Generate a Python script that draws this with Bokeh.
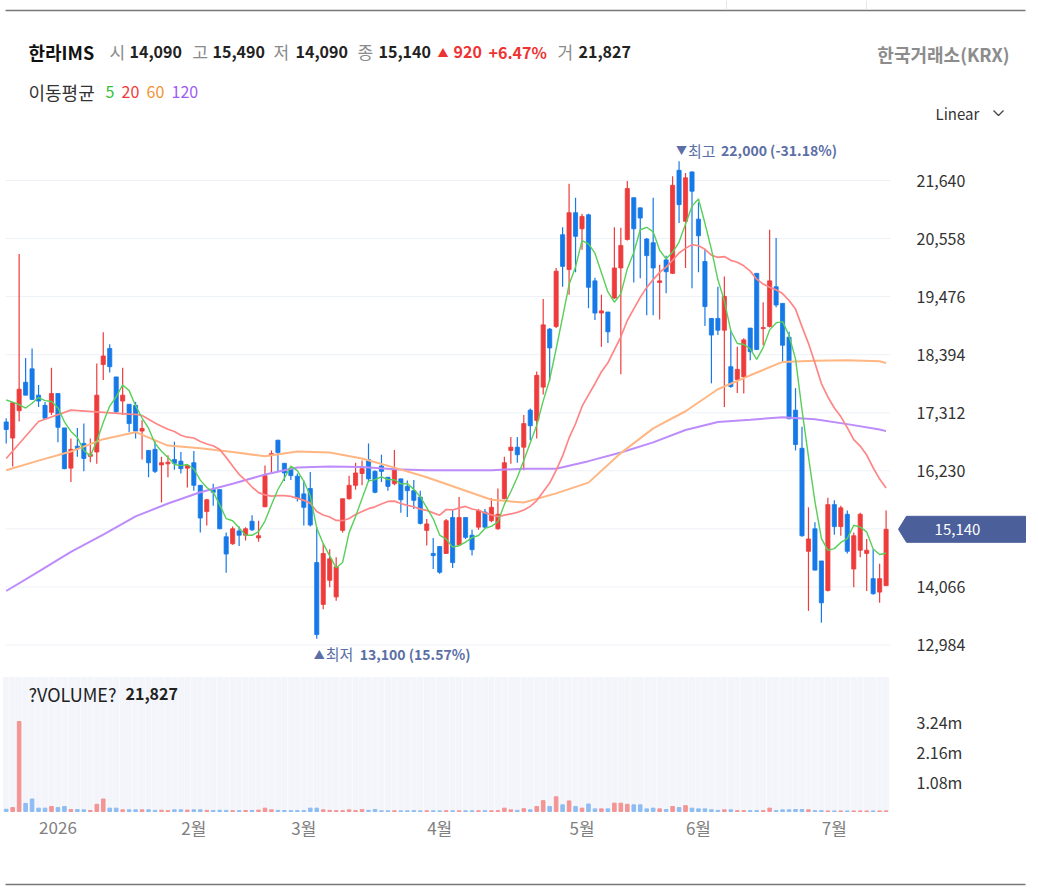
import numpy as np
import pandas as pd
from bokeh.plotting import figure
from bokeh.models import Range1d, Grid
from bokeh.core.properties import value
from bokeh.embed import file_html
from bokeh.resources import INLINE

# ---------------- data ----------------
stock_name = "한라IMS"
exchange = "한국거래소(KRX)"
start_date, end_date = "2025-12-18", "2026-07-13"
holidays = ["2025-12-25", "2025-12-31", "2026-01-01", "2026-02-16", "2026-02-17",
            "2026-02-18", "2026-03-02", "2026-05-01", "2026-05-05", "2026-05-25",
            "2026-06-03"]

opens = [17140, 16840, 17350, 17880, 18130, 17640, 17450, 17320, 17670, 17030,
         16280, 16690, 16740, 16500, 16580, 18210, 18510, 17980, 17530, 17470,
         17450, 16970, 16610, 16630, 16340, 16360, 16440, 16410, 16280, 16380,
         15960, 15470, 15880, 15880, 15000, 14870, 15110, 15030, 15290, 14980,
         15560, 16520, 16800, 16370, 16270, 16130, 15800, 15900, 14520, 13740,
         14190, 13880, 15120, 15710, 15960, 16180, 16440, 16220, 16320, 16110,
         15990, 16080, 15940, 15860, 15740, 15120, 14690, 14820, 14690, 15360,
         14850, 15360, 15030, 15180, 15460, 15300, 15150, 15710, 16610, 16670,
         16670, 17360, 17170, 17790, 18870, 18920, 20630, 19980, 21040, 20740,
         21000, 19770, 19170, 19190, 19450, 20010, 20540, 21320, 21130, 20550,
         20480, 19740, 20160, 19910, 21830, 20880, 21800, 20920, 20130, 19070,
         19070, 18850, 18170, 17930, 17980, 18890, 19910, 18880, 18920, 19660,
         19350, 18720, 17360, 16650, 14730, 15150, 14550, 14000, 15600, 15190,
         15420, 14400, 14750, 14690, 14220, 13970, 14090]
highs = [17210, 17500, 20270, 18330, 18510, 17830, 17510, 18150, 17670, 17030,
         16830, 17030, 17110, 16830, 18230, 18810, 18590, 17980, 18150, 17470,
         17510, 17170, 16610, 16800, 16490, 16520, 16770, 16580, 16350, 16600,
         15960, 15710, 15990, 15880, 15080, 15190, 15190, 15180, 15400, 15300,
         16330, 16610, 16810, 16370, 16300, 16180, 16050, 16210, 15180, 14870,
         14770, 14620, 15710, 16140, 16380, 16420, 16740, 16240, 16530, 16110,
         16620, 16080, 16050, 16060, 15860, 15330, 14980, 14820, 15330, 15520,
         15740, 15360, 15130, 15520, 15520, 15720, 15900, 16490, 16860, 16860,
         17270, 17390, 18080, 19430, 18890, 20010, 20770, 21580, 21320, 21020,
         21020, 19830, 19510, 19190, 20770, 20760, 21630, 21320, 21130, 20570,
         21320, 20070, 20240, 21720, 22000, 21780, 21810, 21230, 20360, 19070,
         19660, 19850, 18850, 18540, 18700, 18890, 19910, 19370, 20720, 20570,
         19350, 18820, 17770, 17050, 15550, 15270, 14550, 15730, 15680, 15580,
         15490, 15080, 15450, 14960, 14770, 14500, 15490]
lows = [16740, 16310, 17150, 17640, 17560, 17420, 17190, 17270, 16760, 16260,
        16020, 16490, 16220, 16390, 16360, 17920, 18060, 17300, 17270, 16950,
        16830, 16440, 16110, 16190, 15640, 16110, 16250, 16180, 15920, 15860,
        15080, 15210, 15580, 15140, 14330, 14850, 14830, 14930, 15110, 14910,
        15550, 16190, 16210, 16040, 16060, 15660, 15210, 15190, 13100, 13650,
        14060, 13810, 15080, 15690, 15880, 15960, 16020, 15810, 16020, 15860,
        15960, 15450, 15370, 15520, 15230, 14840, 14400, 14310, 14680, 14420,
        14840, 14960, 14650, 15130, 15160, 15270, 15130, 15700, 16360, 16380,
        16240, 16800, 16830, 17650, 17900, 18890, 19660, 19510, 19930, 20350,
        19260, 19040, 18540, 18610, 19430, 18030, 20520, 19740, 19820, 19130,
        19130, 19050, 19540, 19900, 20850, 20010, 19630, 19930, 18930, 17860,
        18760, 17420, 17780, 17680, 17670, 18290, 18480, 18570, 18900, 19280,
        18260, 17190, 16610, 15000, 13620, 14370, 13400, 13980, 15040, 15020,
        14690, 14060, 14620, 13990, 13920, 13770, 14090]
closes = [17000, 17500, 17750, 17640, 17560, 17530, 17210, 17670, 17040, 16270,
          16630, 16640, 16460, 16540, 17640, 18370, 18170, 17330, 17640, 17110,
          16970, 17020, 16380, 16220, 16380, 16390, 16370, 16270, 16330, 15960,
          15350, 15690, 15830, 15150, 14680, 15150, 15030, 15150, 15130, 15020,
          16140, 16550, 16570, 16190, 16140, 15720, 15550, 15220, 13180, 14690,
          14590, 14440, 15710, 15960, 16190, 16270, 16080, 15830, 16220, 15940,
          16250, 15690, 15860, 15680, 15250, 15240, 14650, 14340, 15300, 14520,
          15360, 14990, 14760, 15490, 15180, 15550, 15420, 16380, 16670, 16530,
          17110, 17070, 18010, 18950, 18520, 19950, 20040, 21040, 20600, 20970,
          19650, 19170, 19210, 18820, 20010, 20430, 21490, 20740, 20940, 20240,
          20010, 19770, 19940, 21550, 21190, 21690, 21440, 20610, 19290, 18760,
          18850, 19480, 17800, 18120, 18670, 18450, 18490, 18900, 19770, 19320,
          18570, 17200, 16720, 15020, 14960, 14380, 13770, 15600, 15190, 15540,
          14730, 15020, 15420, 14750, 13940, 14220, 15140]
volumes = [80000, 140000, 3240000, 290000, 450000, 120000, 120000, 180000, 140000, 180000,
           70000, 70000, 60000, 35000, 260000, 450000, 120000, 120000, 60000, 60000,
           60000, 60000, 60000, 40000, 45000, 30000, 60000, 60000, 50000, 60000,
           60000, 40000, 35000, 45000, 40000, 30000, 30000, 35000, 35000, 50000,
           120000, 60000, 40000, 35000, 30000, 30000, 30000, 120000, 120000, 60000,
           40000, 30000, 30000, 60000, 30000, 70000, 40000, 70000, 25000, 25000,
           28000, 22000, 25000, 30000, 24000, 26000, 25000, 22000, 28000, 25000,
           24000, 26000, 25000, 25000, 30000, 25000, 30000, 120000, 60000, 40000,
           100000, 60000, 180000, 390000, 180000, 530000, 240000, 380000, 180000, 120000,
           270000, 95000, 95000, 95000, 300000, 300000, 260000, 240000, 240000, 95000,
           120000, 95000, 70000, 180000, 140000, 210000, 120000, 95000, 95000, 60000,
           40000, 60000, 60000, 30000, 30000, 30000, 30000, 30000, 120000, 30000,
           60000, 60000, 70000, 70000, 60000, 30000, 30000, 20000, 20000, 20000,
           20000, 20000, 20000, 20000, 20000, 20000, 21827]

# moving averages: values before the visible window are not on the picture,
# so their first points are read directly from it
ma5_head = [17550, 17510, 17465, 17400]
ma20_head_idx = [0, 5, 10, 15]
ma20_head = [16460, 17150, 17360, 17320]
ma_long_idx = [0, 5, 10, 15, 20, 25, 30, 35, 40, 45, 50, 55, 60, 65, 70, 75, 80,
               85, 90, 95, 100, 105, 110, 115, 120, 125, 130, 135, 136]
ma60 = [16240, 16420, 16590, 16820, 16950, 16700, 16650, 16580, 16500, 16590,
        16570, 16460, 16290, 16110, 15900, 15690, 15640, 15810, 16010, 16560,
        17020, 17340, 17750, 18010, 18260, 18280, 18290, 18270, 18240]
ma120 = [13990, 14350, 14720, 15040, 15380, 15620, 15830, 15990, 16160, 16290,
         16310, 16300, 16260, 16240, 16240, 16240, 16270, 16270, 16410, 16570,
         16760, 16990, 17140, 17180, 17230, 17190, 17100, 17000, 16970]

price_ticks = [12984, 14066, 15148, 16230, 17312, 18394, 19476, 20558, 21640]
vol_ticks = [1080000, 2160000, 3240000]
vol_tick_labels = ["1.08m", "2.16m", "3.24m"]
ma_periods = ["5", "20", "60", "120"]

# ---------------- styles ----------------
FONT = value("Noto Sans CJK KR")
RED, BLUE = "#ee3b3b", "#1679e8"
VRED, VBLUE = "#f49494", "#8dbdf2"
DARK, GRAY = "#222222", "#8a8a8a"
MA_COLORS = ["#58cf58", "#ff8686", "#ffb683", "#bd8cfb"]
MA_LABEL_COLORS = ["#36c236", "#f0393c", "#f39233", "#9d5cf6"]
TAG = "#4b5f9b"

# ---------------- derived ----------------
N = len(closes)
dates = pd.bdate_range(start_date, end_date, freq="C", holidays=holidays)[:N]
idx = np.arange(N)
o, h, l, c, v = (np.array(a, dtype=float) for a in (opens, highs, lows, closes, volumes))
up = c >= o
ccol = [RED if u else BLUE for u in up]
vcol = [VRED if u else VBLUE for u in up]

ma5 = pd.Series(c).rolling(5).mean().to_numpy()
ma5[:4] = ma5_head
ma20_c = pd.Series(c).rolling(20).mean().to_numpy()
ma20_x = list(ma20_head_idx) + list(range(19, N))
ma20_y = list(ma20_head) + list(ma20_c[19:])

tick_idx, tick_lab = [], []
for i in range(1, N):
    if dates[i].month != dates[i - 1].month:
        tick_idx.append(i)
        tick_lab.append(str(dates[i].year) if dates[i].month == 1 else f"{dates[i].month}월")

# ---------------- layout (page pixels; canvas sits at the page origin) ----------------
W, H = 1034, 890
X0, Y0 = 0, 0
CX0, CX1 = 5.7, 885.6          # page x of first / last candle
PY_HI, PY_LO = 180.0, 644.5    # page y of top / bottom price tick
VY0, VY_TOP = 811.0, 721.0     # page y of zero volume / top volume tick
VPANEL_TOP = 677.0
PLOT_LEFT, PLOT_RIGHT = 5.0, 890.0

p = figure(width=W, height=H, x_range=Range1d(X0, X0 + W), y_range=Range1d(Y0 + H, Y0),
           x_axis_location=None, y_axis_location=None, min_border=0,
           toolbar_location=None, output_backend="svg")
for g in p.select(type=Grid):
    g.visible = False
p.outline_line_color = None
p.background_fill_color = "white"
p.border_fill_color = "white"

kx = (CX1 - CX0) / (N - 1)
ky = (price_ticks[-1] - price_ticks[0]) / (PY_LO - PY_HI)
kv = vol_ticks[-1] / (VY0 - VY_TOP)
p.extra_x_ranges = {"idx": Range1d((X0 - CX0) / kx, (X0 + W - CX0) / kx)}
p.extra_y_ranges = {
    "price": Range1d(price_ticks[0] - (Y0 + H - PY_LO) * ky, price_ticks[-1] + (PY_HI - Y0) * ky),
    "vol": Range1d(-(Y0 + H - VY0) * kv, (VY0 - Y0) * kv),
}


def txt(x, y, s, color=DARK, size="16px", bold=False, align="left", xr="default",
        yr="default", xo=0, yo=0):
    p.text(x=[x], y=[y], text=[s], text_color=color, text_font=FONT, text_font_size=size,
           text_font_style="bold" if bold else "normal", text_align=align,
           text_baseline="middle", x_range_name=xr, y_range_name=yr, x_offset=xo, y_offset=yo)


# frame lines
p.segment(x0=[5, 5], x1=[1025, 1025], y0=[10, 884], y1=[10, 884], line_color="#777777", line_width=1.4)
p.segment(x0=[726, 866], x1=[726, 866], y0=[0, 0], y1=[9, 9], line_color="#e6e6e6", line_width=1)

# price grid
p.segment(x0=[PLOT_LEFT] * len(price_ticks), x1=[PLOT_RIGHT] * len(price_ticks), y0=price_ticks,
          y1=price_ticks, y_range_name="price", line_color="#edf1f6", line_width=1)

# volume panel stripes and bars
p.vbar(x=idx, width=0.8, bottom=0, top=(VY0 - VPANEL_TOP) * kv, color="#f3f5fa",
       x_range_name="idx", y_range_name="vol")
p.vbar(x=idx, width=0.55, bottom=0, top=v, color=vcol, x_range_name="idx", y_range_name="vol")

# candles
p.segment(x0=idx, x1=idx, y0=l, y1=h, line_color=ccol, line_width=1.2,
          x_range_name="idx", y_range_name="price")
p.vbar(x=idx, width=0.64, bottom=np.minimum(o, c), top=np.maximum(o, c), fill_color=ccol,
       line_color=ccol, line_width=0.8, x_range_name="idx", y_range_name="price")

# moving averages
p.line(ma_long_idx, ma120, line_color=MA_COLORS[3], line_width=2, x_range_name="idx", y_range_name="price")
p.line(ma_long_idx, ma60, line_color=MA_COLORS[2], line_width=2, x_range_name="idx", y_range_name="price")
p.line(ma20_x, ma20_y, line_color=MA_COLORS[1], line_width=1.7, x_range_name="idx", y_range_name="price")
p.line(idx, ma5, line_color=MA_COLORS[0], line_width=1.4, x_range_name="idx", y_range_name="price")

# max / min annotations
last_close = closes[-1]
imax = int(np.argmax(h)); imin = int(np.argmin(l))
mx, mn = int(h[imax]), int(l[imin])
ANN = "#5b6fa6"
txt(imax, mx, "▼", ANN, "11px", xr="idx", yr="price", xo=-3, yo=-11)
txt(imax, mx, "최고", ANN, "15px", xr="idx", yr="price", xo=9, yo=-11)
txt(imax, mx, f"{mx:,} ({(last_close - mx) / mx * 100:.2f}%)", ANN, "14px", True,
    xr="idx", yr="price", xo=42, yo=-11)
txt(imin, mn, "▲", ANN, "11px", xr="idx", yr="price", xo=-3, yo=15)
txt(imin, mn, "최저", ANN, "15px", xr="idx", yr="price", xo=9, yo=15)
txt(imin, mn, f"{mn:,} ({(last_close - mn) / mn * 100:.2f}%)", ANN, "14px", True,
    xr="idx", yr="price", xo=43, yo=15)

# right price axis labels
for t in price_ticks:
    txt(916, t, f"{t:,}", "#333333", "16px", yr="price")
# current price tag
hh = 13 * ky
p.patch(x=[898, 906, 1025, 1025, 906], y=[last_close, last_close + hh, last_close + hh,
        last_close - hh, last_close - hh], color=TAG, y_range_name="price")
txt(957, last_close, f"{closes[-1]:,}", "white", "15px", align="center", yr="price")

# volume axis labels
for t, s in zip(vol_ticks, vol_tick_labels):
    txt(916, t, s, "#333333", "16px", yr="vol")

# month labels
p.text(x=tick_idx, y=[827] * len(tick_idx), text=tick_lab, text_color="#808080",
       text_font=FONT, text_font_size="17px", text_align="center", text_baseline="middle",
       x_range_name="idx")

# header
prev = closes[-2]
chg = closes[-1] - prev
pct = chg / prev * 100
HY = 51
txt(28, HY, stock_name, "#111111", "18px", True)
for lab, val, xl, xv in [("시", opens[-1], 109, 129), ("고", highs[-1], 192, 212),
                         ("저", lows[-1], 273, 295), ("종", closes[-1], 357, 378)]:
    txt(xl, HY, lab, GRAY, "17px")
    txt(xv, HY, f"{val:,}", DARK, "16px", True)
txt(437, HY, "▲" if chg >= 0 else "▼", "#ee3333", "11px")
txt(453, HY, f"{abs(chg):,}", "#ee3333", "16px", True)
txt(488, HY, f"{pct:+.2f}%", "#ee3333", "16px", True)
txt(557, HY, "거", GRAY, "17px")
txt(578, HY, f"{volumes[-1]:,}", DARK, "16px", True)
txt(1009, 53, exchange, "#8c8c8c", "18px", True, align="right")

# moving-average legend
txt(28, 91, "이동평균", "#333333", "18px")
for s, col, xx in zip(ma_periods, MA_LABEL_COLORS, [105, 121, 146, 171]):
    txt(xx, 91, s, col, "16px")

# scale selector
txt(935, 113, "Linear", "#333333", "15px")
p.line(x=[993, 998, 1003], y=[110, 115, 110], line_color="#444444", line_width=1.3)

# volume title
txt(28, 693, "?VOLUME?", DARK, "18px")
txt(125, 693, f"{volumes[-1]:,}", DARK, "16px", True)

open("out.html", "w").write(file_html(p, INLINE))
